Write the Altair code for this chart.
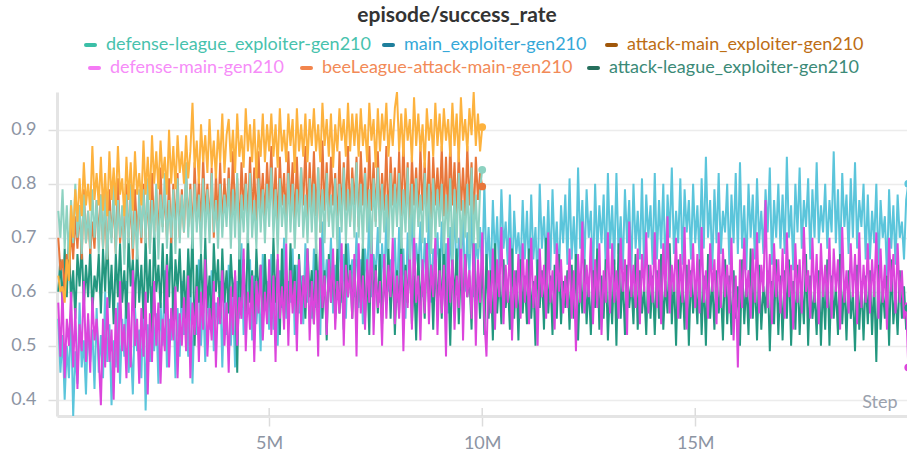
import altair as alt
import pandas as pd

# Runs are logged every LOG_INTERVAL environment steps, starting at FIRST_STEP.
FIRST_STEP = 50_000
LOG_INTERVAL = 50_000

# --- success rate per logged step (one row of 20 values = 1M steps) ---------
main_exploiter = [
    0.55, 0.45, 0.52, 0.40, 0.50, 0.44, 0.56, 0.37, 0.49, 0.43, 0.58, 0.46, 0.51, 0.41, 0.55, 0.47, 0.53, 0.42, 0.57, 0.45,
    0.52, 0.44, 0.60, 0.47, 0.54, 0.39, 0.51, 0.46, 0.58, 0.43, 0.55, 0.48, 0.62, 0.45, 0.50, 0.41, 0.57, 0.49, 0.53, 0.44,
    0.59, 0.38, 0.54, 0.47, 0.61, 0.49, 0.56, 0.43, 0.58, 0.50, 0.64, 0.46, 0.55, 0.51, 0.60, 0.44, 0.57, 0.48, 0.62, 0.52,
    0.58, 0.48, 0.63, 0.43, 0.57, 0.52, 0.66, 0.50, 0.59, 0.47, 0.61, 0.53, 0.64, 0.49, 0.58, 0.54, 0.62, 0.46, 0.60, 0.52,
    0.65, 0.50, 0.59, 0.46, 0.62, 0.55, 0.69, 0.52, 0.60, 0.56, 0.66, 0.51, 0.63, 0.54, 0.61, 0.49, 0.67, 0.57, 0.62, 0.53,
    0.67, 0.53, 0.61, 0.50, 0.64, 0.57, 0.70, 0.55, 0.62, 0.58, 0.68, 0.52, 0.65, 0.56, 0.63, 0.54, 0.69, 0.58, 0.61, 0.55,
    0.68, 0.57, 0.64, 0.52, 0.73, 0.59, 0.66, 0.60, 0.70, 0.56, 0.65, 0.61, 0.72, 0.58, 0.67, 0.55, 0.69, 0.62, 0.66, 0.59,
    0.71, 0.57, 0.66, 0.54, 0.68, 0.62, 0.75, 0.59, 0.67, 0.63, 0.72, 0.58, 0.69, 0.61, 0.74, 0.60, 0.66, 0.63, 0.70, 0.58,
    0.72, 0.60, 0.68, 0.55, 0.71, 0.63, 0.76, 0.61, 0.69, 0.64, 0.73, 0.59, 0.70, 0.62, 0.75, 0.58, 0.68, 0.64, 0.71, 0.61,
    0.73, 0.62, 0.69, 0.56, 0.72, 0.64, 0.77, 0.61, 0.70, 0.65, 0.74, 0.60, 0.71, 0.63, 0.76, 0.59, 0.69, 0.66, 0.72, 0.62,
    0.80, 0.64, 0.72, 0.62, 0.77, 0.66, 0.74, 0.63, 0.79, 0.68, 0.73, 0.65, 0.78, 0.61, 0.75, 0.67, 0.71, 0.64, 0.77, 0.66,
    0.75, 0.63, 0.78, 0.66, 0.72, 0.61, 0.80, 0.68, 0.74, 0.65, 0.77, 0.64, 0.79, 0.67, 0.73, 0.62, 0.76, 0.69, 0.78, 0.65,
    0.81, 0.66, 0.74, 0.64, 0.83, 0.68, 0.77, 0.65, 0.79, 0.70, 0.75, 0.62, 0.80, 0.67, 0.76, 0.69, 0.78, 0.64, 0.82, 0.68,
    0.76, 0.65, 0.82, 0.67, 0.74, 0.64, 0.79, 0.69, 0.77, 0.63, 0.80, 0.68, 0.75, 0.66, 0.81, 0.64, 0.78, 0.70, 0.76, 0.65,
    0.82, 0.66, 0.77, 0.68, 0.80, 0.63, 0.78, 0.70, 0.83, 0.67, 0.75, 0.69, 0.81, 0.65, 0.79, 0.71, 0.77, 0.66, 0.80, 0.69,
    0.76, 0.66, 0.81, 0.68, 0.85, 0.70, 0.77, 0.64, 0.79, 0.69, 0.82, 0.67, 0.75, 0.71, 0.80, 0.65, 0.78, 0.69, 0.82, 0.67,
    0.84, 0.68, 0.76, 0.64, 0.80, 0.70, 0.78, 0.66, 0.81, 0.69, 0.75, 0.67, 0.79, 0.71, 0.83, 0.65, 0.77, 0.70, 0.80, 0.68,
    0.78, 0.67, 0.85, 0.70, 0.76, 0.64, 0.80, 0.71, 0.83, 0.68, 0.77, 0.72, 0.81, 0.66, 0.79, 0.70, 0.84, 0.69, 0.76, 0.71,
    0.80, 0.68, 0.77, 0.71, 0.86, 0.69, 0.79, 0.65, 0.82, 0.72, 0.78, 0.67, 0.81, 0.70, 0.84, 0.68, 0.77, 0.72, 0.80, 0.66,
    0.78, 0.66, 0.75, 0.69, 0.80, 0.64, 0.77, 0.70, 0.74, 0.63, 0.79, 0.68, 0.76, 0.65, 0.78, 0.70, 0.73, 0.66, 0.77, 0.80,
]

defense_main = [
    0.58, 0.48, 0.61, 0.44, 0.55, 0.50, 0.60, 0.46, 0.57, 0.42, 0.54, 0.49, 0.62, 0.47, 0.56, 0.45, 0.59, 0.51, 0.55, 0.48,
    0.39, 0.55, 0.46, 0.59, 0.47, 0.53, 0.40, 0.57, 0.45, 0.62, 0.49, 0.54, 0.44, 0.58, 0.46, 0.64, 0.50, 0.55, 0.43, 0.57,
    0.48, 0.60, 0.41, 0.56, 0.47, 0.62, 0.50, 0.58, 0.43, 0.55, 0.49, 0.65, 0.46, 0.57, 0.51, 0.61, 0.44, 0.56, 0.50, 0.59,
    0.49, 0.63, 0.44, 0.58, 0.52, 0.61, 0.47, 0.60, 0.53, 0.66, 0.48, 0.57, 0.51, 0.62, 0.46, 0.59, 0.54, 0.64, 0.50, 0.58,
    0.45, 0.61, 0.52, 0.64, 0.50, 0.59, 0.55, 0.68, 0.49, 0.60, 0.53, 0.63, 0.47, 0.62, 0.56, 0.65, 0.51, 0.60, 0.54, 0.66,
    0.52, 0.63, 0.47, 0.67, 0.55, 0.61, 0.53, 0.69, 0.50, 0.64, 0.56, 0.62, 0.49, 0.66, 0.54, 0.63, 0.57, 0.68, 0.51, 0.62,
    0.54, 0.64, 0.48, 0.70, 0.57, 0.63, 0.52, 0.66, 0.58, 0.68, 0.53, 0.62, 0.56, 0.69, 0.50, 0.65, 0.59, 0.64, 0.55, 0.67,
    0.48, 0.69, 0.56, 0.63, 0.53, 0.66, 0.58, 0.71, 0.52, 0.64, 0.57, 0.62, 0.50, 0.67, 0.55, 0.65, 0.59, 0.70, 0.54, 0.63,
    0.55, 0.67, 0.49, 0.64, 0.57, 0.68, 0.53, 0.71, 0.58, 0.63, 0.51, 0.66, 0.56, 0.69, 0.54, 0.65, 0.59, 0.70, 0.52, 0.64,
    0.56, 0.65, 0.48, 0.70, 0.58, 0.66, 0.53, 0.63, 0.57, 0.72, 0.51, 0.67, 0.59, 0.64, 0.55, 0.69, 0.50, 0.66, 0.58, 0.71,
    0.55, 0.48, 0.64, 0.56, 0.68, 0.53, 0.66, 0.59, 0.72, 0.54, 0.65, 0.58, 0.70, 0.51, 0.64, 0.57, 0.67, 0.55, 0.69, 0.58,
    0.66, 0.54, 0.70, 0.57, 0.63, 0.50, 0.68, 0.59, 0.65, 0.55, 0.71, 0.58, 0.64, 0.53, 0.69, 0.60, 0.66, 0.56, 0.63, 0.57,
    0.68, 0.55, 0.64, 0.49, 0.67, 0.58, 0.73, 0.56, 0.65, 0.59, 0.70, 0.54, 0.66, 0.57, 0.69, 0.52, 0.64, 0.58, 0.71, 0.56,
    0.69, 0.58, 0.64, 0.55, 0.70, 0.60, 0.66, 0.52, 0.73, 0.59, 0.65, 0.57, 0.68, 0.54, 0.67, 0.60, 0.71, 0.56, 0.65, 0.58,
    0.71, 0.57, 0.66, 0.54, 0.69, 0.59, 0.74, 0.56, 0.65, 0.60, 0.70, 0.55, 0.67, 0.58, 0.72, 0.53, 0.66, 0.59, 0.69, 0.57,
    0.67, 0.56, 0.72, 0.58, 0.64, 0.55, 0.69, 0.60, 0.66, 0.54, 0.71, 0.57, 0.68, 0.59, 0.65, 0.56, 0.70, 0.51, 0.63, 0.46,
    0.66, 0.57, 0.70, 0.59, 0.64, 0.55, 0.68, 0.58, 0.71, 0.56, 0.65, 0.60, 0.77, 0.57, 0.67, 0.54, 0.69, 0.59, 0.66, 0.56,
    0.68, 0.55, 0.71, 0.59, 0.65, 0.53, 0.69, 0.58, 0.66, 0.56, 0.72, 0.60, 0.64, 0.55, 0.70, 0.58, 0.67, 0.54, 0.69, 0.59,
    0.65, 0.57, 0.70, 0.55, 0.68, 0.60, 0.66, 0.53, 0.72, 0.58, 0.64, 0.56, 0.69, 0.59, 0.67, 0.54, 0.71, 0.57, 0.65, 0.58,
    0.69, 0.56, 0.66, 0.59, 0.71, 0.55, 0.68, 0.58, 0.65, 0.53, 0.70, 0.60, 0.67, 0.56, 0.69, 0.58, 0.64, 0.55, 0.58, 0.46,
]

attack_league_exploiter = [
    0.60, 0.66, 0.57, 0.68, 0.59, 0.70, 0.58, 0.64, 0.55, 0.67, 0.61, 0.69, 0.57, 0.65, 0.59, 0.68, 0.56, 0.63, 0.60, 0.67,
    0.56, 0.68, 0.60, 0.71, 0.57, 0.65, 0.54, 0.67, 0.59, 0.69, 0.58, 0.64, 0.55, 0.70, 0.61, 0.66, 0.57, 0.68, 0.58, 0.65,
    0.55, 0.70, 0.58, 0.66, 0.52, 0.72, 0.60, 0.65, 0.57, 0.69, 0.56, 0.67, 0.59, 0.71, 0.54, 0.66, 0.60, 0.68, 0.57, 0.64,
    0.55, 0.68, 0.59, 0.72, 0.50, 0.65, 0.58, 0.67, 0.56, 0.70, 0.57, 0.63, 0.53, 0.69, 0.60, 0.66, 0.55, 0.68, 0.58, 0.64,
    0.56, 0.67, 0.59, 0.63, 0.45, 0.69, 0.57, 0.66, 0.55, 0.71, 0.58, 0.64, 0.54, 0.68, 0.59, 0.65, 0.53, 0.67, 0.57, 0.63,
    0.55, 0.70, 0.58, 0.66, 0.52, 0.68, 0.56, 0.64, 0.54, 0.69, 0.58, 0.65, 0.53, 0.67, 0.57, 0.63, 0.55, 0.68, 0.59, 0.64,
    0.54, 0.69, 0.57, 0.70, 0.55, 0.64, 0.51, 0.67, 0.58, 0.65, 0.55, 0.68, 0.56, 0.63, 0.53, 0.69, 0.59, 0.65, 0.55, 0.66,
    0.53, 0.66, 0.58, 0.69, 0.55, 0.64, 0.52, 0.71, 0.57, 0.65, 0.56, 0.67, 0.54, 0.63, 0.58, 0.68, 0.55, 0.66, 0.52, 0.64,
    0.56, 0.70, 0.55, 0.65, 0.58, 0.67, 0.54, 0.63, 0.51, 0.67, 0.57, 0.64, 0.55, 0.69, 0.58, 0.65, 0.53, 0.66, 0.56, 0.68,
    0.55, 0.69, 0.57, 0.64, 0.50, 0.66, 0.58, 0.68, 0.54, 0.65, 0.56, 0.67, 0.59, 0.63, 0.53, 0.69, 0.57, 0.64, 0.55, 0.67,
    0.52, 0.67, 0.55, 0.64, 0.51, 0.69, 0.56, 0.63, 0.54, 0.66, 0.57, 0.62, 0.53, 0.68, 0.55, 0.64, 0.51, 0.66, 0.56, 0.63,
    0.54, 0.68, 0.55, 0.62, 0.50, 0.66, 0.57, 0.64, 0.53, 0.70, 0.56, 0.63, 0.52, 0.65, 0.55, 0.67, 0.54, 0.62, 0.57, 0.64,
    0.53, 0.65, 0.55, 0.67, 0.51, 0.63, 0.56, 0.66, 0.54, 0.62, 0.52, 0.64, 0.57, 0.68, 0.53, 0.63, 0.55, 0.66, 0.51, 0.62,
    0.54, 0.66, 0.50, 0.69, 0.55, 0.63, 0.52, 0.65, 0.57, 0.62, 0.54, 0.67, 0.53, 0.64, 0.56, 0.61, 0.52, 0.65, 0.55, 0.63,
    0.52, 0.64, 0.55, 0.67, 0.53, 0.62, 0.56, 0.69, 0.54, 0.63, 0.50, 0.66, 0.55, 0.62, 0.53, 0.65, 0.50, 0.64, 0.56, 0.62,
    0.54, 0.66, 0.52, 0.63, 0.50, 0.67, 0.55, 0.62, 0.53, 0.64, 0.56, 0.61, 0.51, 0.66, 0.54, 0.63, 0.52, 0.64, 0.55, 0.61,
    0.50, 0.66, 0.54, 0.62, 0.52, 0.68, 0.55, 0.63, 0.51, 0.65, 0.53, 0.61, 0.56, 0.64, 0.49, 0.62, 0.54, 0.66, 0.52, 0.63,
    0.51, 0.64, 0.55, 0.66, 0.50, 0.62, 0.53, 0.65, 0.52, 0.61, 0.54, 0.67, 0.50, 0.63, 0.55, 0.60, 0.52, 0.64, 0.50, 0.62,
    0.53, 0.66, 0.50, 0.63, 0.55, 0.61, 0.52, 0.67, 0.54, 0.62, 0.51, 0.64, 0.55, 0.60, 0.49, 0.65, 0.53, 0.62, 0.51, 0.63,
    0.54, 0.64, 0.52, 0.62, 0.47, 0.65, 0.53, 0.61, 0.55, 0.63, 0.50, 0.66, 0.54, 0.60, 0.52, 0.64, 0.55, 0.61, 0.53, 0.57,
]

beeleague_attack_main = [
    0.70, 0.64, 0.66, 0.60, 0.67, 0.62, 0.72, 0.66, 0.74, 0.68, 0.76, 0.66, 0.79, 0.69, 0.75, 0.67, 0.73, 0.68, 0.77, 0.70,
    0.78, 0.68, 0.76, 0.66, 0.79, 0.70, 0.77, 0.67, 0.81, 0.69, 0.75, 0.68, 0.80, 0.70, 0.77, 0.66, 0.79, 0.71, 0.76, 0.69,
    0.80, 0.70, 0.78, 0.68, 0.82, 0.71, 0.79, 0.69, 0.83, 0.72, 0.78, 0.70, 0.81, 0.69, 0.80, 0.72, 0.82, 0.70, 0.79, 0.71,
    0.82, 0.72, 0.80, 0.70, 0.84, 0.73, 0.81, 0.71, 0.85, 0.74, 0.80, 0.72, 0.83, 0.70, 0.82, 0.73, 0.84, 0.72, 0.81, 0.74,
    0.83, 0.73, 0.86, 0.74, 0.81, 0.71, 0.84, 0.75, 0.82, 0.73, 0.85, 0.74, 0.83, 0.72, 0.86, 0.75, 0.82, 0.73, 0.84, 0.76,
    0.87, 0.74, 0.83, 0.72, 0.85, 0.76, 0.82, 0.73, 0.86, 0.75, 0.84, 0.72, 0.85, 0.74, 0.83, 0.76, 0.87, 0.73, 0.84, 0.75,
    0.86, 0.74, 0.83, 0.71, 0.88, 0.75, 0.84, 0.73, 0.85, 0.76, 0.82, 0.72, 0.86, 0.74, 0.84, 0.75, 0.87, 0.73, 0.83, 0.76,
    0.85, 0.72, 0.86, 0.76, 0.83, 0.74, 0.87, 0.75, 0.84, 0.73, 0.86, 0.74, 0.82, 0.75, 0.87, 0.72, 0.85, 0.76, 0.83, 0.74,
    0.86, 0.74, 0.88, 0.75, 0.84, 0.71, 0.85, 0.76, 0.83, 0.73, 0.87, 0.75, 0.84, 0.74, 0.86, 0.72, 0.85, 0.76, 0.83, 0.75,
    0.87, 0.74, 0.85, 0.73, 0.88, 0.76, 0.84, 0.73, 0.86, 0.75, 0.83, 0.74, 0.87, 0.76, 0.84, 0.73, 0.85, 0.77, 0.82, 0.795,
]

defense_league_exploiter = [
    0.75, 0.70, 0.79, 0.68, 0.76, 0.66, 0.77, 0.69, 0.80, 0.70, 0.76, 0.67, 0.78, 0.69, 0.75, 0.68, 0.79, 0.70, 0.77, 0.67,
    0.78, 0.68, 0.79, 0.66, 0.75, 0.69, 0.80, 0.67, 0.77, 0.70, 0.76, 0.65, 0.78, 0.69, 0.80, 0.68, 0.75, 0.66, 0.79, 0.70,
    0.79, 0.69, 0.81, 0.67, 0.77, 0.70, 0.80, 0.66, 0.78, 0.71, 0.82, 0.68, 0.77, 0.70, 0.79, 0.67, 0.81, 0.69, 0.78, 0.71,
    0.84, 0.70, 0.79, 0.68, 0.80, 0.71, 0.78, 0.67, 0.81, 0.70, 0.79, 0.69, 0.82, 0.71, 0.77, 0.68, 0.80, 0.70, 0.78, 0.72,
    0.81, 0.68, 0.79, 0.70, 0.82, 0.66, 0.78, 0.71, 0.80, 0.69, 0.82, 0.70, 0.77, 0.68, 0.81, 0.71, 0.79, 0.69, 0.80, 0.72,
    0.83, 0.70, 0.79, 0.67, 0.81, 0.72, 0.78, 0.69, 0.82, 0.71, 0.80, 0.68, 0.79, 0.72, 0.83, 0.70, 0.78, 0.69, 0.81, 0.71,
    0.80, 0.67, 0.83, 0.71, 0.79, 0.69, 0.82, 0.72, 0.78, 0.70, 0.81, 0.68, 0.80, 0.71, 0.83, 0.69, 0.79, 0.72, 0.81, 0.70,
    0.84, 0.70, 0.80, 0.68, 0.82, 0.71, 0.79, 0.67, 0.81, 0.72, 0.83, 0.69, 0.80, 0.71, 0.78, 0.68, 0.82, 0.70, 0.80, 0.72,
    0.82, 0.68, 0.79, 0.71, 0.83, 0.66, 0.80, 0.70, 0.81, 0.72, 0.78, 0.69, 0.82, 0.71, 0.80, 0.67, 0.81, 0.70, 0.79, 0.72,
    0.80, 0.67, 0.78, 0.70, 0.81, 0.66, 0.79, 0.69, 0.82, 0.68, 0.77, 0.70, 0.80, 0.67, 0.83, 0.69, 0.78, 0.68, 0.79, 0.826,
]

attack_main_exploiter = [
    0.63, 0.60, 0.61, 0.58, 0.66, 0.62, 0.76, 0.70, 0.79, 0.73, 0.81, 0.74, 0.84, 0.76, 0.80, 0.75, 0.87, 0.77, 0.82, 0.76,
    0.85, 0.75, 0.82, 0.74, 0.86, 0.77, 0.83, 0.76, 0.87, 0.78, 0.81, 0.74, 0.85, 0.77, 0.84, 0.75, 0.86, 0.78, 0.82, 0.76,
    0.88, 0.78, 0.85, 0.77, 0.89, 0.80, 0.86, 0.79, 0.88, 0.81, 0.85, 0.78, 0.90, 0.80, 0.87, 0.79, 0.89, 0.82, 0.86, 0.80,
    0.89, 0.81, 0.86, 0.95, 0.83, 0.88, 0.80, 0.91, 0.84, 0.89, 0.82, 0.92, 0.83, 0.88, 0.81, 0.90, 0.84, 0.93, 0.82, 0.89,
    0.92, 0.84, 0.90, 0.82, 0.93, 0.85, 0.89, 0.83, 0.94, 0.86, 0.91, 0.84, 0.92, 0.81, 0.90, 0.85, 0.93, 0.84, 0.91, 0.86,
    0.93, 0.85, 0.91, 0.83, 0.94, 0.86, 0.90, 0.84, 0.93, 0.87, 0.92, 0.82, 0.94, 0.86, 0.91, 0.85, 0.93, 0.84, 0.92, 0.87,
    0.94, 0.86, 0.91, 0.84, 0.95, 0.87, 0.92, 0.85, 0.93, 0.83, 0.91, 0.86, 0.94, 0.88, 0.92, 0.85, 0.95, 0.86, 0.93, 0.87,
    0.93, 0.85, 0.94, 0.87, 0.91, 0.84, 0.95, 0.88, 0.92, 0.83, 0.94, 0.86, 0.93, 0.88, 0.95, 0.85, 0.92, 0.87, 0.94, 0.97,
    0.86, 0.93, 0.85, 0.94, 0.88, 0.92, 0.84, 0.96, 0.87, 0.93, 0.86, 0.91, 0.83, 0.94, 0.88, 0.92, 0.85, 0.95, 0.87, 0.93,
    0.86, 0.94, 0.88, 0.92, 0.85, 0.95, 0.87, 0.93, 0.84, 0.96, 0.88, 0.92, 0.86, 0.94, 0.89, 0.97, 0.87, 0.93, 0.86, 0.905,
]

# name: (values, line colour, legend swatch colour, legend text colour)
RUNS = {
    "defense-league_exploiter-gen210": (defense_league_exploiter, "#8dd2c1", "#3bbfa7", "#47c2ad"),
    "main_exploiter-gen210": (main_exploiter, "#5bc5db", "#1f7f9c", "#35a8d8"),
    "attack-main_exploiter-gen210": (attack_main_exploiter, "#fdb23e", "#a0570a", "#bd6d14"),
    "defense-main-gen210": (defense_main, "#dc45dc", "#f57af5", "#f68cf8"),
    "beeLeague-attack-main-gen210": (beeleague_attack_main, "#e8763a", "#f2854d", "#f28a57"),
    "attack-league_exploiter-gen210": (attack_league_exploiter, "#23977f", "#256f5c", "#3b8a77"),
}

# back-to-front drawing order of the curves
DRAW_ORDER = [
    "main_exploiter-gen210",
    "attack-league_exploiter-gen210",
    "defense-main-gen210",
    "beeLeague-attack-main-gen210",
    "defense-league_exploiter-gen210",
    "attack-main_exploiter-gen210",
]

# legend rows (left to right)
LEGEND_ROWS = [
    ["defense-league_exploiter-gen210", "main_exploiter-gen210", "attack-main_exploiter-gen210"],
    ["defense-main-gen210", "beeLeague-attack-main-gen210", "attack-league_exploiter-gen210"],
]
# left edge of each legend swatch, relative to the plot's left edge
LEGEND_X = [[27, 325, 548], [31, 243, 530]]
LEGEND_Y = [-47, -24]

X_TICKS = [5_000_000, 10_000_000, 15_000_000]
Y_TICKS = [0.4, 0.5, 0.6, 0.7, 0.8, 0.9]

FONT = "Lato"
GRID = "#ececec"
AXIS_LINE = "#e4e4e4"
LABEL = "#8c94a3"

x_scale = alt.Scale(domain=[20_000, 19_970_000], nice=False, zero=False)
y_scale = alt.Scale(domain=[0.37, 0.97], nice=False, zero=False)

x_axis = alt.Axis(
    values=X_TICKS, labelExpr="datum.value / 1000000 + 'M'", grid=False,
    domainColor=AXIS_LINE, domainWidth=3, tickColor="#dcdcdc", tickWidth=1.5,
    tickSize=10, labelPadding=8, labelColor=LABEL, labelFontSize=18, labelFont=FONT,
    title="Step", titleX=840, titleY=-9, titleAlign="right", titleBaseline="alphabetic",
    titleColor="#9aa1ad", titleFontSize=18, titleFontWeight="normal", titleFont=FONT,
)
y_axis = alt.Axis(
    values=Y_TICKS, format=".1f", grid=True, gridColor=GRID, gridWidth=1.5,
    domainColor=AXIS_LINE, domainWidth=3, tickColor="#dedede", tickWidth=1.5,
    tickSize=9, labelPadding=12, labelColor=LABEL, labelFontSize=18, labelFont=FONT,
    title=None,
)

frames = []
for name, (vals, _, _, _) in RUNS.items():
    frames.append(pd.DataFrame({
        "run": name,
        "step": [FIRST_STEP + i * LOG_INTERVAL for i in range(len(vals))],
        "value": vals,
    }))
data = pd.concat(frames, ignore_index=True)

x_enc = alt.X("step:Q", scale=x_scale, axis=x_axis)
y_enc = alt.Y("value:Q", scale=y_scale, axis=y_axis)

layers = []
for name in DRAW_ORDER:
    line_c = RUNS[name][1]
    run_data = data[data["run"] == name]
    layers.append(
        alt.Chart(run_data).mark_line(
            color=line_c, strokeWidth=2.0, strokeJoin="bevel", clip=True
        ).encode(x=x_enc, y=y_enc)
    )
# a dot on the latest logged value of each run
for name in DRAW_ORDER:
    line_c = RUNS[name][1]
    last = data[data["run"] == name].tail(1)
    layers.append(
        alt.Chart(last).mark_circle(color=line_c, size=60, opacity=1)
        .encode(x=x_enc, y=y_enc)
    )

# the part of each x tick that reaches up into the plot
tick_df = pd.DataFrame({"step": X_TICKS})
layers.append(
    alt.Chart(tick_df).mark_rule(color="#dcdcdc", strokeWidth=1.5)
    .encode(x=x_enc, y=alt.value(316), y2=alt.value(324))
)

one = pd.DataFrame({"k": [0]})
layers.append(
    alt.Chart(one).mark_text(
        text="episode/success_rate", font=FONT, fontSize=21, fontWeight="bold",
        color="#333333", align="center", baseline="middle",
    ).encode(x=alt.value(400), y=alt.value(-76))
)
for row, names in enumerate(LEGEND_ROWS):
    for col, name in enumerate(names):
        _, _, sw_c, txt_c = RUNS[name]
        x0 = LEGEND_X[row][col]
        y0 = LEGEND_Y[row]
        layers.append(
            alt.Chart(one).mark_rule(color=sw_c, strokeWidth=4, strokeCap="round")
            .encode(x=alt.value(x0 + 2), x2=alt.value(x0 + 11), y=alt.value(y0))
        )
        layers.append(
            alt.Chart(one).mark_text(
                text=name, font=FONT, fontSize=18, color=txt_c,
                align="left", baseline="middle",
            ).encode(x=alt.value(x0 + 22), y=alt.value(y0))
        )

chart = (
    alt.layer(*layers)
    .properties(
        width=850, height=324, autosize=alt.AutoSizeParams(type="none"),
        padding={"left": 57, "top": 92, "right": 0, "bottom": 45},
        background="white",
    )
    .configure_view(strokeWidth=0)
)

chart.save("out.html", embed_options={"renderer": "svg", "actions": False})
